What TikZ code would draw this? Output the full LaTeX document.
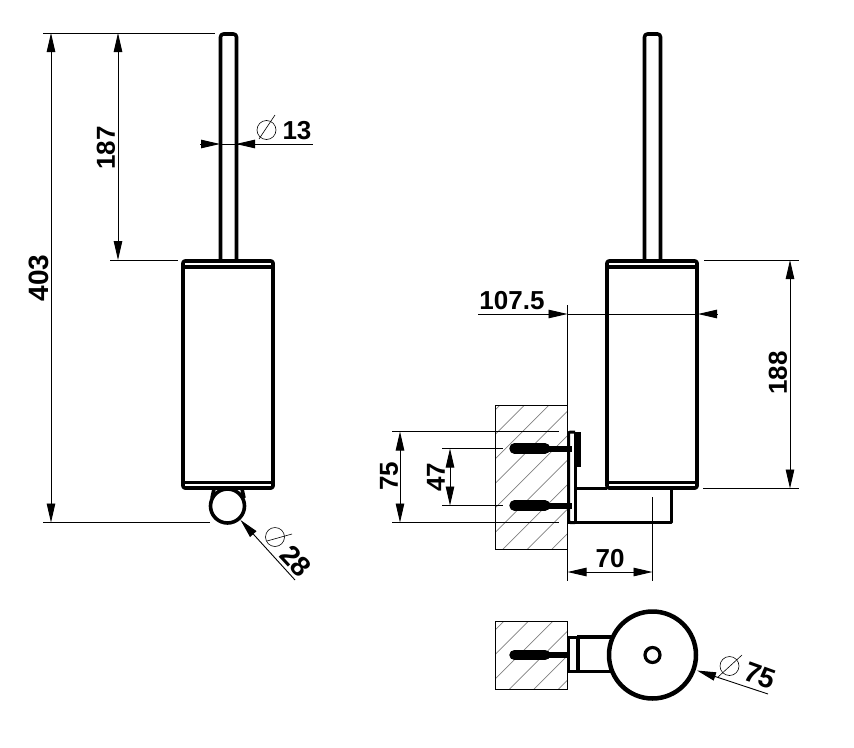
\documentclass[tikz,border=0pt]{standalone}
\usepackage{fontspec}
\setmainfont{Liberation Sans}
\usetikzlibrary{arrows.meta}

\tikzset{
  part/.style={draw, line width=3.6pt, line join=round},
  thin part/.style={draw, line width=3pt},
  dim/.style={draw, line width=0.9pt},
  tipped/.style={dim, {Triangle[length=19pt,width=8.5pt]}-{Triangle[length=19pt,width=8.5pt]}},
  tip/.style={dim, -{Triangle[length=19pt,width=8.5pt]}},
  hatch/.style={draw, gray, line width=0.7pt},
  wall/.style={draw, line width=1pt},
  phi/.style={draw, line width=0.6pt},
  size/.style={font=\fontsize{26}{26}\selectfont\bfseries, inner sep=0pt},
  big size/.style={font=\fontsize{28}{28}\selectfont\bfseries, inner sep=0pt},
  screw/.style={draw, line cap=round, line width=10.5pt},
  shank/.style={draw, line width=6pt}
}

\begin{document}
\begin{tikzpicture}[x=1pt, y=-1pt]
  \useasboundingbox (0,0) rectangle (854,747);

  % front and side view of the brush
  \foreach \dx in {0,424} {
    \begin{scope}[shift={(\dx,0)}]
      \draw[part, rounded corners=3pt] (220.5,260) -- (220.5,34) -- (236.5,34) -- (236.5,260);
      \draw[part, rounded corners=2pt] (183,267) -- (183,261) -- (273,261) -- (273,267);
      \draw[part, rounded corners=2pt] (183,267) -- (183,488) -- (273,488) -- (273,267);
      \draw[part] (183,267) -- (273,267);
      \draw[part] (183,482.5) -- (273,482.5);
    \end{scope}
  }

  % ball
  \draw[part] (214,489) -- (212,498);
  \draw[part] (242,489) -- (244,498);
  \node[circle, draw, line width=3.6pt, fill=white, minimum size=34pt, inner sep=0pt] (Ball) at (227.5,506) {};

  % wall sections
  \begin{scope}
    \clip (495.5,405) rectangle (567.5,549.5);
    \foreach \c in {905,929.5,...,1120}
      \draw[hatch] (\c-400,400) -- (\c-555,555);
  \end{scope}
  \draw[wall] (567.5,405) -- (495.5,405) -- (495.5,549.5) -- (567.5,549.5);
  \begin{scope}
    \clip (495.5,621.5) rectangle (567.5,689.5);
    \foreach \c in {1125,1149.5,...,1260}
      \draw[hatch] (\c-615,615) -- (\c-695,695);
  \end{scope}
  \draw[wall] (495.5,621.5) rectangle (567.5,689.5);

  % screws
  \foreach \y in {448.5,505.5} {
    \draw[screw] (514.5,\y) -- (545,\y);
    \draw[shank] (545,\y) -- (572,\y);
  }
  \draw[screw] (514.5,655) -- (545,655);
  \draw[shank] (545,655) -- (570,655);

  % bracket, side view
  \draw[thin part, rounded corners=2pt] (575,432) -- (568.5,432) -- (568.5,522.5) -- (575,522.5);
  \draw[part] (575.5,432) -- (575.5,522.5);
  \draw[line width=5pt, rounded corners=2pt] (578,432) -- (578,467);
  \draw[part] (575,488.5) -- (607,488.5);
  \draw[part] (671.5,488.5) -- (671.5,522.5) -- (568,522.5);
  \draw[part] (652,488.5) -- (671.5,488.5);

  % bracket, plan view
  \draw[thin part] (578,637) -- (568.5,637) -- (568.5,671.5) -- (578,671.5);
  \draw[line width=4.5pt] (578,637) -- (578,671.5);
  \draw[part] (577,637) -- (612,637);
  \draw[part] (577,671.5) -- (612,671.5);
  \node[circle, draw, line width=4.5pt, fill=white, minimum size=87pt, inner sep=0pt] (Cup) at (652.5,655) {};
  \node[circle, draw, line width=3.2pt, minimum size=15pt, inner sep=0pt] (Hole) at (652.5,655) {};

  % extension lines
  \draw[dim] (43,33) -- (215,33);
  \draw[dim] (43,522.5) -- (210,522.5);
  \draw[dim] (110,260) -- (178,260);
  \draw[dim] (704,260) -- (799,260);
  \draw[dim] (703,488.5) -- (799,488.5);
  \draw[dim] (567.5,305) -- (567.5,581);
  \draw[dim] (652.5,497) -- (652.5,581);
  \draw[dim] (392,431.5) -- (559,431.5);
  \draw[dim] (392,522.5) -- (559,522.5);
  \draw[dim] (442,448.5) -- (503,448.5);
  \draw[dim] (442,505.5) -- (503,505.5);

  % dimensions
  \draw[tipped] (51,33) -- (51,522.5);
  \draw[tipped] (118,33) -- (118,260);
  \draw[tipped] (790,260) -- (790,488.5);
  \draw[tipped] (400,431.5) -- (400,522.5);
  \draw[tipped] (450,448.5) -- (450,505.5);
  \draw[tipped] (567.5,572) -- (652.5,572);

  \coordinate (D13b) at (220,144);
  \coordinate (D13c) at (313,144);
  \coordinate (D13d) at (236,144);
  \draw[dim] (D13b) -- (D13c);
  \draw[tip] (D13b) ++(-20,0) -- (D13b);
  \draw[tip] (D13c) ++(-58,0) -- (D13d);
  \coordinate (D107a) at (478,314);
  \coordinate (D107b) at (567.5,314);
  \coordinate (D107c) at (698,314);
  \coordinate (D107d) at (717,314);
  \draw[tip] (D107a) -- (D107b);
  \draw[dim] (D107b) -- (D107c);
  \draw[tip] (D107d) -- (D107c);

  % diameter leaders
  \coordinate (L28a) at (295,580);
  \coordinate (L28b) at (240.5,520);
  \draw[tip] (L28a) -- (L28b);
  \coordinate (L75a) at (768,694);
  \coordinate (L75b) at (697,670.5);
  \draw[tip] (L75a) -- (L75b);

  % diameter signs
  \foreach \cx/\cy/\ax/\ay/\bx/\by in {
    266.5/130/259/139/275/115,
    275/537/267/541/292/534,
    729.5/666/718/677/742/655} {
    \draw[phi] (\cx,\cy) circle (9.5pt);
    \draw[phi] (\ax,\ay) -- (\bx,\by);
  }

  % labels
  \node[big size, rotate=90] (T403) at (39,278) {403};
  \node[size, rotate=90] (T187) at (106,148) {187};
  \node[size] (T13) at (297,131) {13};
  \node[big size, rotate=-47] (T28) at (296,561) {28};
  \node[size] (T107) at (512,301) {107.5};
  \node[size, rotate=90] (T188) at (778,373) {188};
  \node[size, rotate=90] (T75a) at (389,476) {75};
  \node[size, rotate=90] (T47) at (436,477) {47};
  \node[size] (T70) at (610,559) {70};
  \node[big size, rotate=-20] (T75b) at (760,676) {75};
\end{tikzpicture}
\end{document}
